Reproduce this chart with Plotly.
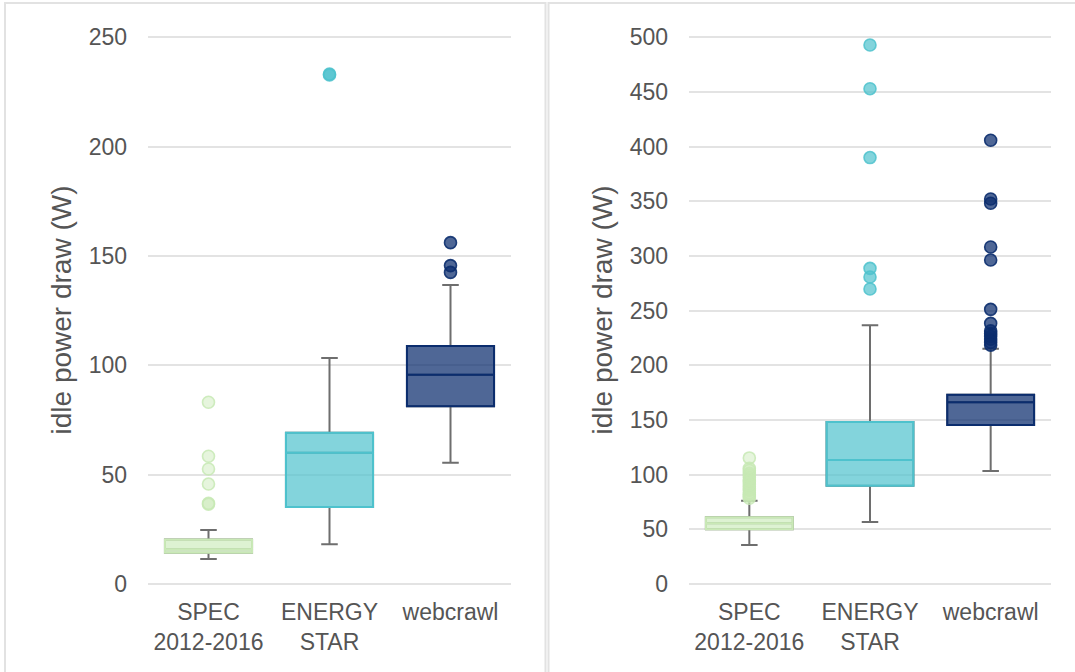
import plotly.graph_objects as go

# Server groups shown on both panels
categories = ["SPEC<br>2012-2016", "ENERGY<br>STAR", "webcrawl"]

# Left panel: idle power draw (W) summary statistics per group
left_q1 = [14.3, 35.2, 81.3]
left_median = [15.9, 60.0, 95.7]
left_q3 = [20.3, 69.2, 108.8]
left_lower = [11.4, 18.2, 55.5]
left_upper = [24.7, 103.3, 136.7]
left_outliers = [
    [83.1, 58.4, 52.6, 45.7, 36.9, 36.5],
    [233.2, 232.8],
    [156.1, 145.6, 142.5],
]

# Right panel: idle power draw (W) summary statistics per group
right_q1 = [50.0, 89.9, 145.4]
right_median = [55.5, 113.4, 166.2]
right_q3 = [61.0, 148.2, 173.1]
right_lower = [35.7, 56.7, 103.3]
right_upper = [76.2, 236.6, 215.2]
right_outliers = [
    [115.3, 105.8, 103.9, 101.2, 99.6, 97.4, 95.1, 93.8, 91.2, 89.5,
     87.3, 85.9, 83.4, 81.7, 80.2, 78.4],
    [493.0, 453.0, 390.0, 288.7, 280.8, 269.8],
    [405.8, 352.1, 348.2, 308.2, 296.3, 251.2, 238.4, 231.5, 229.0,
     226.5, 224.0, 221.0, 218.5],
]

# Styling
FONT = "Liberation Sans, Arial, Helvetica, sans-serif"
TEXT = "#555555"
GRID = "#e3e3e3"
WHISKER = "#6e6e6e"
line_colors = ["#c9e9b6", "#4ec2cd", "#0b2d6e"]
fill_colors = ["rgba(199,233,180,0.6)", "rgba(78,194,205,0.7)", "rgba(11,45,110,0.72)"]
marker_fill = ["rgba(199,233,180,0.45)", "rgba(78,194,205,0.7)", "rgba(11,45,110,0.72)"]
marker_line = ["rgba(199,233,180,0.85)", "rgba(78,194,205,0.85)", "rgba(11,45,110,0.9)"]

BOX_WIDTH = 0.72
CAP = 0.19

fig = go.Figure()


def add_panel(xa, ya, q1, med, q3, lo, hi, outliers):
    # grey whiskers with caps underneath
    fig.add_trace(go.Box(
        x=categories, q1=q1, median=med, q3=q3,
        lowerfence=lo, upperfence=hi,
        width=BOX_WIDTH, whiskerwidth=CAP,
        fillcolor="rgba(0,0,0,0)",
        line=dict(color=WHISKER, width=2),
        boxpoints=False, showlegend=False, hoverinfo="skip",
        xaxis=xa, yaxis=ya,
    ))
    # coloured boxes on top
    for i, cat in enumerate(categories):
        fig.add_trace(go.Box(
            x=[cat], q1=[q1[i]], median=[med[i]], q3=[q3[i]],
            lowerfence=[q1[i]], upperfence=[q3[i]],
            width=BOX_WIDTH, whiskerwidth=0,
            fillcolor=fill_colors[i],
            line=dict(color=line_colors[i], width=2),
            boxpoints=False, showlegend=False, hoverinfo="skip",
            xaxis=xa, yaxis=ya,
        ))
    # outlier points
    for i, cat in enumerate(categories):
        fig.add_trace(go.Scatter(
            x=[cat] * len(outliers[i]), y=outliers[i], mode="markers",
            marker=dict(size=12, color=marker_fill[i],
                        line=dict(color=marker_line[i], width=1.6)),
            showlegend=False, hoverinfo="skip",
            xaxis=xa, yaxis=ya,
        ))


add_panel("x", "y", left_q1, left_median, left_q3, left_lower, left_upper, left_outliers)
add_panel("x2", "y2", right_q1, right_median, right_q3, right_lower, right_upper, right_outliers)

W, H = 1075, 672
y_dom = [1 - 600 / H, 1 - 20 / H]

xaxis_common = dict(
    type="category", categoryorder="array", categoryarray=categories,
    range=[-0.5, 2.5], showgrid=False, showline=False, zeroline=False,
    ticks="", tickfont=dict(size=23, color=TEXT, family=FONT),
    ticklabelstandoff=-4, automargin=False, fixedrange=True,
)
yaxis_common = dict(
    dtick=50, showgrid=True, gridcolor=GRID, gridwidth=2,
    showline=False, zeroline=False, ticks="",
    tickfont=dict(size=23, color=TEXT, family=FONT),
    ticklabelstandoff=20, automargin=False, fixedrange=True,
    title=dict(text="idle power draw (W)", font=dict(size=28, color=TEXT, family=FONT),
               standoff=8),
)

fig.update_layout(
    width=W, height=H,
    margin=dict(l=0, r=0, t=0, b=0),
    paper_bgcolor="white", plot_bgcolor="white",
    boxmode="overlay",
    font=dict(family=FONT, color=TEXT),
    xaxis=dict(domain=[148 / W, 511 / W], anchor="y", **xaxis_common),
    yaxis=dict(domain=y_dom, anchor="x",
               range=[(584 - 600) / 2.1868, (584 - 20) / 2.1868], **yaxis_common),
    xaxis2=dict(domain=[689 / W, 1051 / W], anchor="y2", **xaxis_common),
    yaxis2=dict(domain=y_dom, anchor="x2",
                range=[(584 - 600) / 1.0934, (584 - 20) / 1.0934], **yaxis_common),
)

# panel frames
frame = dict(type="rect", xref="paper", yref="paper",
             line=dict(color="#e2e2e2", width=2), fillcolor="rgba(0,0,0,0)", layer="below")
fig.add_shape(x0=5 / W, x1=545.5 / W, y0=-0.2, y1=1 - 3 / H, **frame)
fig.add_shape(x0=548.5 / W, x1=1.2, y0=-0.2, y1=1 - 3 / H, **frame)

fig.write_html("out.html")
